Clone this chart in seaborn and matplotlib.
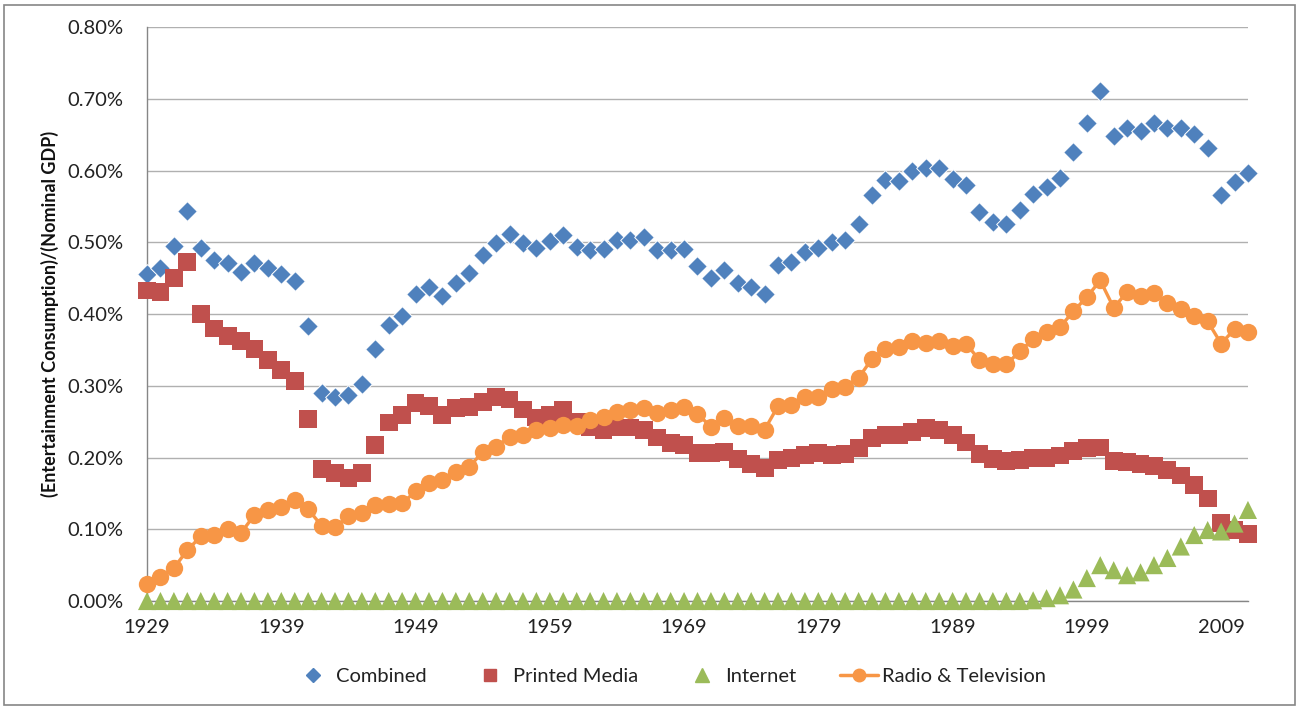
import numpy as np
import pandas as pd
import matplotlib
matplotlib.use("Agg")
import matplotlib.pyplot as plt
from matplotlib.lines import Line2D
from matplotlib.patches import Rectangle
import seaborn as sns

sns.set_style("white")
plt.rcParams["font.family"] = ["Lato", "DejaVu Sans"]

# ---------------- data (percent of nominal GDP) ----------------
years = list(range(1929, 2012))

combined = [
    0.456, 0.464, 0.495, 0.544, 0.492, 0.475, 0.471, 0.459, 0.472, 0.464,
    0.456, 0.446, 0.383, 0.290, 0.284, 0.287, 0.302, 0.351, 0.385, 0.397,
    0.428, 0.438, 0.425, 0.443, 0.458, 0.482, 0.499, 0.512, 0.499, 0.493,
    0.502, 0.511, 0.494, 0.490, 0.491, 0.503, 0.503, 0.507, 0.490, 0.489,
    0.491, 0.467, 0.450, 0.462, 0.444, 0.438, 0.428, 0.469, 0.473, 0.487,
    0.492, 0.500, 0.504, 0.526, 0.566, 0.587, 0.586, 0.600, 0.604, 0.604,
    0.588, 0.580, 0.542, 0.529, 0.526, 0.545, 0.568, 0.577, 0.590, 0.626,
    0.666, 0.711, 0.648, 0.660, 0.656, 0.667, 0.659, 0.659, 0.651, 0.632,
    0.566, 0.585, 0.597,
]

printed_media = [
    0.433, 0.431, 0.451, 0.473, 0.400, 0.380, 0.370, 0.363, 0.352, 0.336,
    0.322, 0.307, 0.254, 0.184, 0.179, 0.171, 0.178, 0.218, 0.249, 0.259,
    0.276, 0.272, 0.259, 0.269, 0.271, 0.277, 0.285, 0.281, 0.267, 0.256,
    0.259, 0.266, 0.250, 0.243, 0.239, 0.242, 0.242, 0.239, 0.228, 0.220,
    0.218, 0.206, 0.206, 0.208, 0.198, 0.191, 0.185, 0.197, 0.199, 0.204,
    0.206, 0.204, 0.205, 0.213, 0.227, 0.232, 0.232, 0.236, 0.241, 0.239,
    0.232, 0.221, 0.205, 0.198, 0.195, 0.197, 0.199, 0.199, 0.203, 0.209,
    0.213, 0.214, 0.195, 0.194, 0.191, 0.188, 0.183, 0.175, 0.162, 0.143,
    0.109, 0.099, 0.094,
]

internet = [
    0.000, 0.000, 0.000, 0.000, 0.000, 0.000, 0.000, 0.000, 0.000, 0.000,
    0.000, 0.000, 0.000, 0.000, 0.000, 0.000, 0.000, 0.000, 0.000, 0.000,
    0.000, 0.000, 0.000, 0.000, 0.000, 0.000, 0.000, 0.000, 0.000, 0.000,
    0.000, 0.000, 0.000, 0.000, 0.000, 0.000, 0.000, 0.000, 0.000, 0.000,
    0.000, 0.000, 0.000, 0.000, 0.000, 0.000, 0.000, 0.000, 0.000, 0.000,
    0.000, 0.000, 0.000, 0.000, 0.000, 0.000, 0.000, 0.000, 0.000, 0.000,
    0.000, 0.000, 0.000, 0.000, 0.000, 0.000, 0.001, 0.004, 0.008, 0.016,
    0.032, 0.050, 0.043, 0.036, 0.040, 0.050, 0.060, 0.076, 0.092, 0.099,
    0.097, 0.108, 0.127,
]

radio_tv = [
    0.024, 0.033, 0.046, 0.071, 0.090, 0.092, 0.101, 0.095, 0.120, 0.127,
    0.131, 0.141, 0.128, 0.105, 0.103, 0.118, 0.123, 0.134, 0.135, 0.136,
    0.153, 0.165, 0.169, 0.180, 0.187, 0.208, 0.215, 0.229, 0.232, 0.238,
    0.241, 0.245, 0.244, 0.252, 0.257, 0.263, 0.267, 0.269, 0.262, 0.267,
    0.271, 0.261, 0.243, 0.255, 0.244, 0.244, 0.239, 0.272, 0.273, 0.285,
    0.284, 0.295, 0.299, 0.311, 0.338, 0.352, 0.354, 0.362, 0.360, 0.362,
    0.355, 0.359, 0.336, 0.331, 0.330, 0.348, 0.365, 0.375, 0.382, 0.404,
    0.424, 0.447, 0.409, 0.431, 0.426, 0.430, 0.415, 0.407, 0.397, 0.390,
    0.359, 0.379, 0.375,
]

df = pd.DataFrame({
    "year": years,
    "Combined": combined,
    "Printed Media": printed_media,
    "Internet": internet,
    "Radio & Television": radio_tv,
})

c_blue = "#4F81BD"
c_red = "#C0504D"
c_green = "#9BBB59"
c_orange = "#F79646"
grey = "#868686"

# ---------------- plot ----------------
fig = plt.figure(figsize=(12.99, 7.09), dpi=100)
ax = fig.add_axes([0.1132, 0.1523, 0.8475, 0.8091])

sns.scatterplot(data=df, x="year", y="Combined", ax=ax, marker="D", s=100,
                color=c_blue, edgecolor="white", linewidth=0.7, zorder=3, clip_on=False)
sns.scatterplot(data=df, x="year", y="Printed Media", ax=ax, marker="s", s=165,
                color=c_red, edgecolor="none", linewidth=0, zorder=4, clip_on=False)
sns.scatterplot(data=df, x="year", y="Internet", ax=ax, marker="^", s=170,
                color=c_green, edgecolor="none", linewidth=0, zorder=5, clip_on=False)
sns.lineplot(data=df, x="year", y="Radio & Television", ax=ax, color=c_orange,
             linewidth=2.4, marker="o", markersize=12.5, markeredgewidth=0,
             zorder=6, clip_on=False)

ax.set_xlim(1929, 2011)
ax.set_ylim(0, 0.8)
ax.set_xticks(np.arange(1929, 2010, 10))
ax.set_yticks(np.arange(0, 0.81, 0.1))
ax.set_yticklabels([f"{v:.2f}%" for v in np.arange(0, 0.81, 0.1)])
ax.tick_params(axis="both", labelsize=14.5, colors=grey, labelcolor="#222222",
               direction="out", length=5, width=1)
ax.tick_params(axis="x", pad=8)
ax.tick_params(axis="y", pad=12)

ax.yaxis.grid(True, color="#b0b0b0", linewidth=1)
ax.xaxis.grid(False)
for side in ["top", "right"]:
    ax.spines[side].set_visible(False)
for side in ["left", "bottom"]:
    ax.spines[side].set_color(grey)
    ax.spines[side].set_linewidth(1)

ax.set_xlabel("")
ax.set_ylabel("(Entertainment Consumption)/(Nominal GDP)", fontsize=13,
              fontweight="bold", color="#111111", labelpad=6)

handles = [
    Line2D([], [], linestyle="none", marker="D", markersize=7, color=c_blue),
    Line2D([], [], linestyle="none", marker="s", markersize=9, color=c_red),
    Line2D([], [], linestyle="none", marker="^", markersize=10, color=c_green),
    Line2D([], [], color=c_orange, linewidth=2.5, marker="o", markersize=9),
]
labels = ["Combined", "Printed Media", "Internet", "Radio & Television"]
fig.legend(handles, labels, loc="center", bbox_to_anchor=(670 / 1299, 1 - 676 / 709),
           ncol=4, frameon=False, fontsize=14.5, handlelength=1.9,
           handletextpad=0.2, columnspacing=2.2, labelcolor="#222222")

# outer frame of the chart area
fig.patches.append(Rectangle((4 / 1299, 4 / 709), 1291 / 1299, 700 / 709,
                             transform=fig.transFigure, fill=False,
                             edgecolor=grey, linewidth=1.2))

plt.savefig("out.png", dpi=100)
plt.close()
